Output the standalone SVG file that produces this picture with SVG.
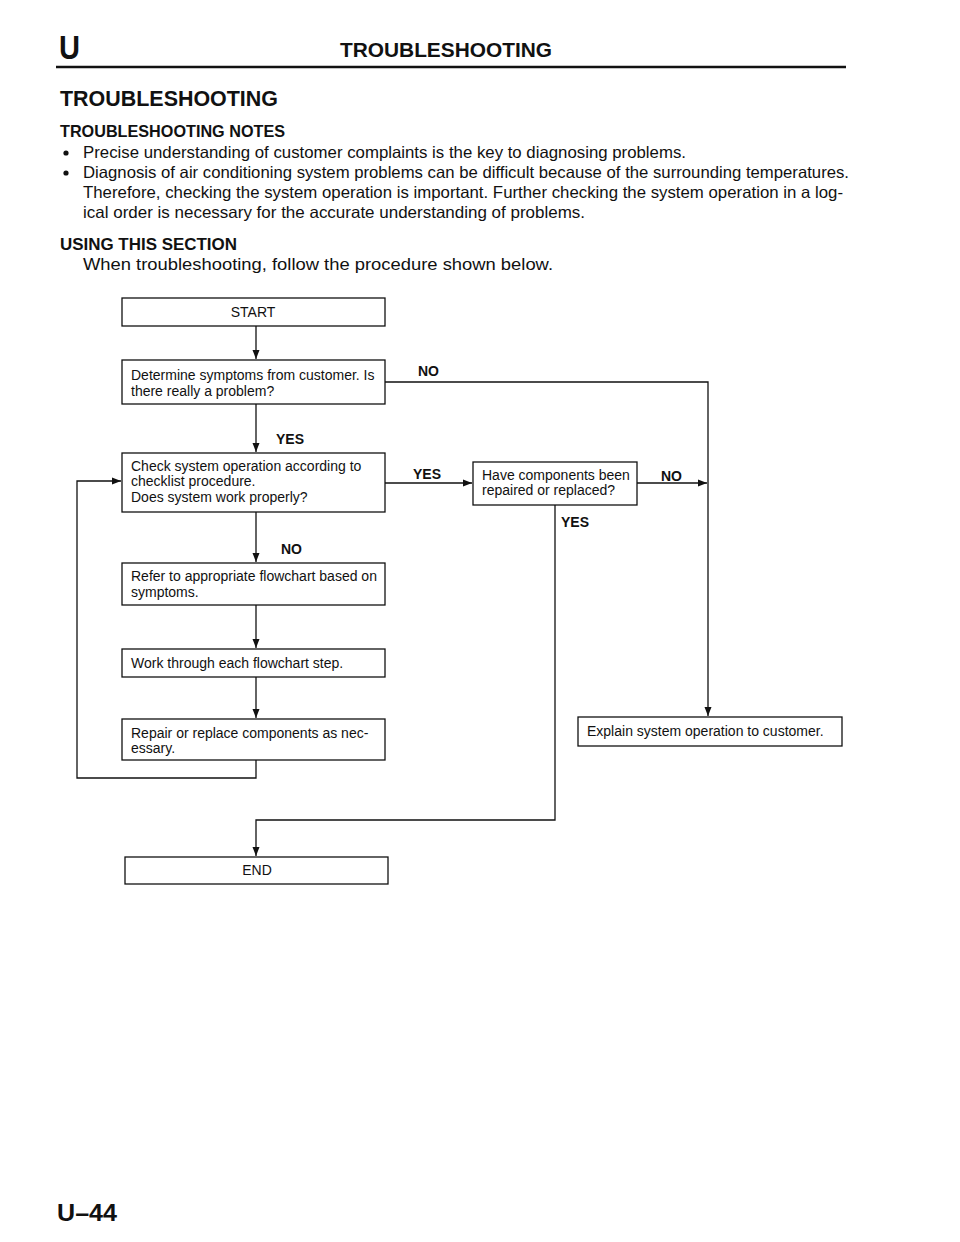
<svg xmlns="http://www.w3.org/2000/svg" width="960" height="1242" viewBox="0 0 960 1242">
<style>
text{font-family:"Liberation Sans",Arial,sans-serif;fill:#111}
.b{font-weight:bold}
.body{font-size:16.5px}
.fc{font-size:14px}
.lbl{font-size:14px;font-weight:bold}
.box{fill:#fff;stroke:#111;stroke-width:1.3}
.con{fill:none;stroke:#111;stroke-width:1.3}
</style>
<defs>
<marker id="ah" markerUnits="userSpaceOnUse" markerWidth="11" markerHeight="9" refX="9" refY="4.5" orient="auto">
<path d="M0,1 L9,4.5 L0,8 Z" fill="#111"/>
</marker>
</defs>
<rect width="960" height="1242" fill="#fff"/>
<g id="header">
<text x="59" y="59" class="b" style="font-size:34px" textLength="21" lengthAdjust="spacingAndGlyphs">U</text>
<text x="340" y="57" class="b" style="font-size:20.5px" textLength="212" lengthAdjust="spacingAndGlyphs">TROUBLESHOOTING</text>
<line x1="56" y1="67" x2="846" y2="67" stroke="#111" stroke-width="2.5"/>
</g>
<g id="intro">
<text x="60" y="106" class="b" style="font-size:22px" textLength="218" lengthAdjust="spacingAndGlyphs">TROUBLESHOOTING</text>
<text x="60" y="137" class="b body" textLength="225" lengthAdjust="spacingAndGlyphs">TROUBLESHOOTING NOTES</text>
<circle cx="66" cy="153" r="2.6" fill="#111"/>
<text x="83" y="158" class="body" textLength="603" lengthAdjust="spacingAndGlyphs">Precise understanding of customer complaints is the key to diagnosing problems.</text>
<circle cx="66" cy="173" r="2.6" fill="#111"/>
<text x="83" y="178" class="body" textLength="766" lengthAdjust="spacingAndGlyphs">Diagnosis of air conditioning system problems can be difficult because of the surrounding temperatures.</text>
<text x="83" y="198" class="body" textLength="760" lengthAdjust="spacingAndGlyphs">Therefore, checking the system operation is important. Further checking the system operation in a log-</text>
<text x="83" y="218" class="body" textLength="502" lengthAdjust="spacingAndGlyphs">ical order is necessary for the accurate understanding of problems.</text>
<text x="60" y="250" class="b body" textLength="177" lengthAdjust="spacingAndGlyphs">USING THIS SECTION</text>
<text x="83" y="270" class="body" textLength="470" lengthAdjust="spacingAndGlyphs">When troubleshooting, follow the procedure shown below.</text>
</g>
<g id="connectors">
<path class="con" d="M256 326 V359" marker-end="url(#ah)"/>
<path class="con" d="M385 382 H708 V716" marker-end="url(#ah)"/>
<path class="con" d="M256 404 V452" marker-end="url(#ah)"/>
<path class="con" d="M385 483 H472" marker-end="url(#ah)"/>
<path class="con" d="M637 483 H707" marker-end="url(#ah)"/>
<path class="con" d="M555 505 V820 H256 V856" marker-end="url(#ah)"/>
<path class="con" d="M256 512 V562" marker-end="url(#ah)"/>
<path class="con" d="M256 605 V648" marker-end="url(#ah)"/>
<path class="con" d="M256 677 V718" marker-end="url(#ah)"/>
<path class="con" d="M256 760 V778 H77 V481 H121" marker-end="url(#ah)"/>
<text x="418" y="376" class="lbl">NO</text>
<text x="276" y="444" class="lbl">YES</text>
<text x="413" y="479" class="lbl">YES</text>
<text x="661" y="481" class="lbl">NO</text>
<text x="561" y="527" class="lbl">YES</text>
<text x="281" y="554" class="lbl">NO</text>
</g>
<g id="start">
<rect class="box" x="122" y="298" width="263" height="28"/>
<text x="253" y="317" class="fc" text-anchor="middle">START</text>
</g>
<g id="determine">
<rect class="box" x="122" y="360" width="263" height="44"/>
<text x="131" y="380" class="fc">Determine symptoms from customer. Is</text>
<text x="131" y="396" class="fc">there really a problem?</text>
</g>
<g id="check">
<rect class="box" x="122" y="453" width="263" height="59"/>
<text x="131" y="471" class="fc">Check system operation according to</text>
<text x="131" y="486" class="fc">checklist procedure.</text>
<text x="131" y="502" class="fc">Does system work properly?</text>
</g>
<g id="have">
<rect class="box" x="473" y="462" width="164" height="43"/>
<text x="482" y="480" class="fc">Have components been</text>
<text x="482" y="495" class="fc">repaired or replaced?</text>
</g>
<g id="refer">
<rect class="box" x="122" y="563" width="263" height="42"/>
<text x="131" y="581" class="fc">Refer to appropriate flowchart based on</text>
<text x="131" y="597" class="fc">symptoms.</text>
</g>
<g id="work">
<rect class="box" x="122" y="649" width="263" height="28"/>
<text x="131" y="668" class="fc">Work through each flowchart step.</text>
</g>
<g id="repair">
<rect class="box" x="122" y="719" width="263" height="41"/>
<text x="131" y="738" class="fc">Repair or replace components as nec-</text>
<text x="131" y="753" class="fc">essary.</text>
</g>
<g id="explain">
<rect class="box" x="578" y="717" width="264" height="29"/>
<text x="587" y="736" class="fc">Explain system operation to customer.</text>
</g>
<g id="end">
<rect class="box" x="125" y="857" width="263" height="27"/>
<text x="257" y="875" class="fc" text-anchor="middle">END</text>
</g>
<g id="footer">
<text x="57" y="1221" class="b" style="font-size:23px" textLength="60" lengthAdjust="spacingAndGlyphs">U–44</text>
</g>
</svg>
